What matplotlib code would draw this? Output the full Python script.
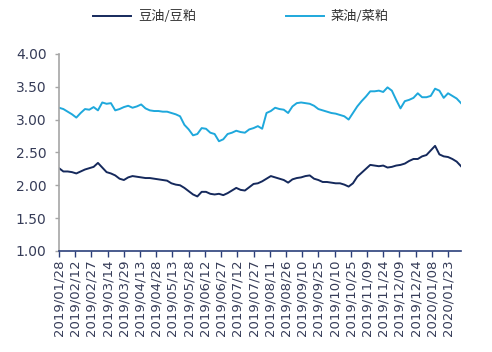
import matplotlib
matplotlib.use("Agg")
import matplotlib.pyplot as plt
import pandas as pd

plt.rcParams['font.family'] = ['DejaVu Sans', 'Noto Sans CJK SC']

start_date = "2019-01-28"
step_days = 4

series_names = ["豆油/豆粕", "菜油/菜粕"]

soy_ratio = [2.26, 2.21, 2.21, 2.20, 2.18, 2.21, 2.24, 2.26, 2.28, 2.34,
             2.27, 2.20, 2.18, 2.15, 2.10, 2.08, 2.12, 2.14, 2.13, 2.12,
             2.11, 2.11, 2.10, 2.09, 2.08, 2.07, 2.03, 2.01, 2.00, 1.96,
             1.91, 1.86, 1.83, 1.90, 1.90, 1.87, 1.86, 1.87, 1.85, 1.88,
             1.92, 1.96, 1.93, 1.92, 1.97, 2.02, 2.03, 2.06, 2.10, 2.14,
             2.12, 2.10, 2.08, 2.04, 2.09, 2.11, 2.12, 2.14, 2.15, 2.10,
             2.08, 2.05, 2.05, 2.04, 2.03, 2.03, 2.01, 1.98, 2.03, 2.13,
             2.19, 2.25, 2.31, 2.30, 2.29, 2.30, 2.27, 2.28, 2.30, 2.31,
             2.33, 2.37, 2.40, 2.40, 2.44, 2.46, 2.53, 2.60, 2.47, 2.44,
             2.43, 2.40, 2.36, 2.29]

rape_ratio = [3.18, 3.16, 3.12, 3.08, 3.03, 3.10, 3.16, 3.15, 3.19, 3.14,
              3.26, 3.24, 3.25, 3.14, 3.16, 3.19, 3.21, 3.18, 3.20, 3.23,
              3.17, 3.14, 3.13, 3.13, 3.12, 3.12, 3.10, 3.08, 3.05, 2.92,
              2.85, 2.76, 2.78, 2.87, 2.86, 2.80, 2.78, 2.67, 2.70, 2.78,
              2.80, 2.83, 2.81, 2.80, 2.85, 2.87, 2.90, 2.86, 3.10, 3.13,
              3.18, 3.16, 3.15, 3.10, 3.20, 3.25, 3.26, 3.25, 3.24, 3.21,
              3.16, 3.14, 3.12, 3.10, 3.09, 3.07, 3.05, 3.00, 3.10, 3.20,
              3.28, 3.35, 3.43, 3.43, 3.44, 3.42, 3.49, 3.44, 3.30, 3.17,
              3.28, 3.30, 3.33, 3.40, 3.34, 3.34, 3.36, 3.47, 3.44, 3.33,
              3.40, 3.36, 3.32, 3.25]

tick_labels = ["2019/01/28", "2019/02/12", "2019/02/27", "2019/03/14", "2019/03/29",
               "2019/04/13", "2019/04/28", "2019/05/13", "2019/05/28", "2019/06/12",
               "2019/06/27", "2019/07/12", "2019/07/27", "2019/08/11", "2019/08/26",
               "2019/09/10", "2019/09/25", "2019/10/10", "2019/10/25", "2019/11/09",
               "2019/11/24", "2019/12/09", "2019/12/24", "2020/01/08", "2020/01/23"]

y_ticks = [1.00, 1.50, 2.00, 2.50, 3.00, 3.50, 4.00]

dates = pd.date_range(start_date, periods=len(soy_ratio), freq=f"{step_days}D")
tick_dates = pd.to_datetime(tick_labels, format="%Y/%m/%d")

navy = "#15295c"
light = "#1ea8dc"
text_col = "#363c58"

fig = plt.figure(figsize=(4.92, 3.52), dpi=100)
ax = fig.add_axes([0.12, 0.287, 0.817, 0.56])

ax.plot(dates, soy_ratio, color=navy, lw=1.4, label=series_names[0])
ax.plot(dates, rape_ratio, color=light, lw=1.4, label=series_names[1])

ax.set_ylim(1.0, 4.0)
ax.set_yticks(y_ticks)
ax.set_yticklabels([f"{v:.2f}" for v in y_ticks], fontsize=10, color=text_col)
ax.set_xlim(dates[0], dates[-1])
ax.set_xticks(tick_dates)
ax.set_xticklabels(tick_labels, rotation=90, fontsize=9.5, color=text_col)

for s in ["top", "right"]:
    ax.spines[s].set_visible(False)
ax.spines["left"].set_color("#a6a6a6")
ax.spines["left"].set_linewidth(1.2)
ax.spines["bottom"].set_color("#2b3f7a")
ax.spines["bottom"].set_linewidth(1.2)
ax.tick_params(axis="x", direction="out", length=4, color="#2b3f7a", width=1, pad=2)
ax.tick_params(axis="y", direction="out", length=3, color="#a6a6a6", width=1, pad=6)

leg = fig.legend(loc="upper center", bbox_to_anchor=(0.49, 1.005), ncol=2, frameon=False,
                 prop={"family": ["Noto Sans CJK SC", "DejaVu Sans"], "size": 9.5},
                 handlelength=2.9, columnspacing=6.8, handletextpad=0.5)
for t in leg.get_texts():
    t.set_color("#333333")

fig.savefig("out.png", dpi=100)
